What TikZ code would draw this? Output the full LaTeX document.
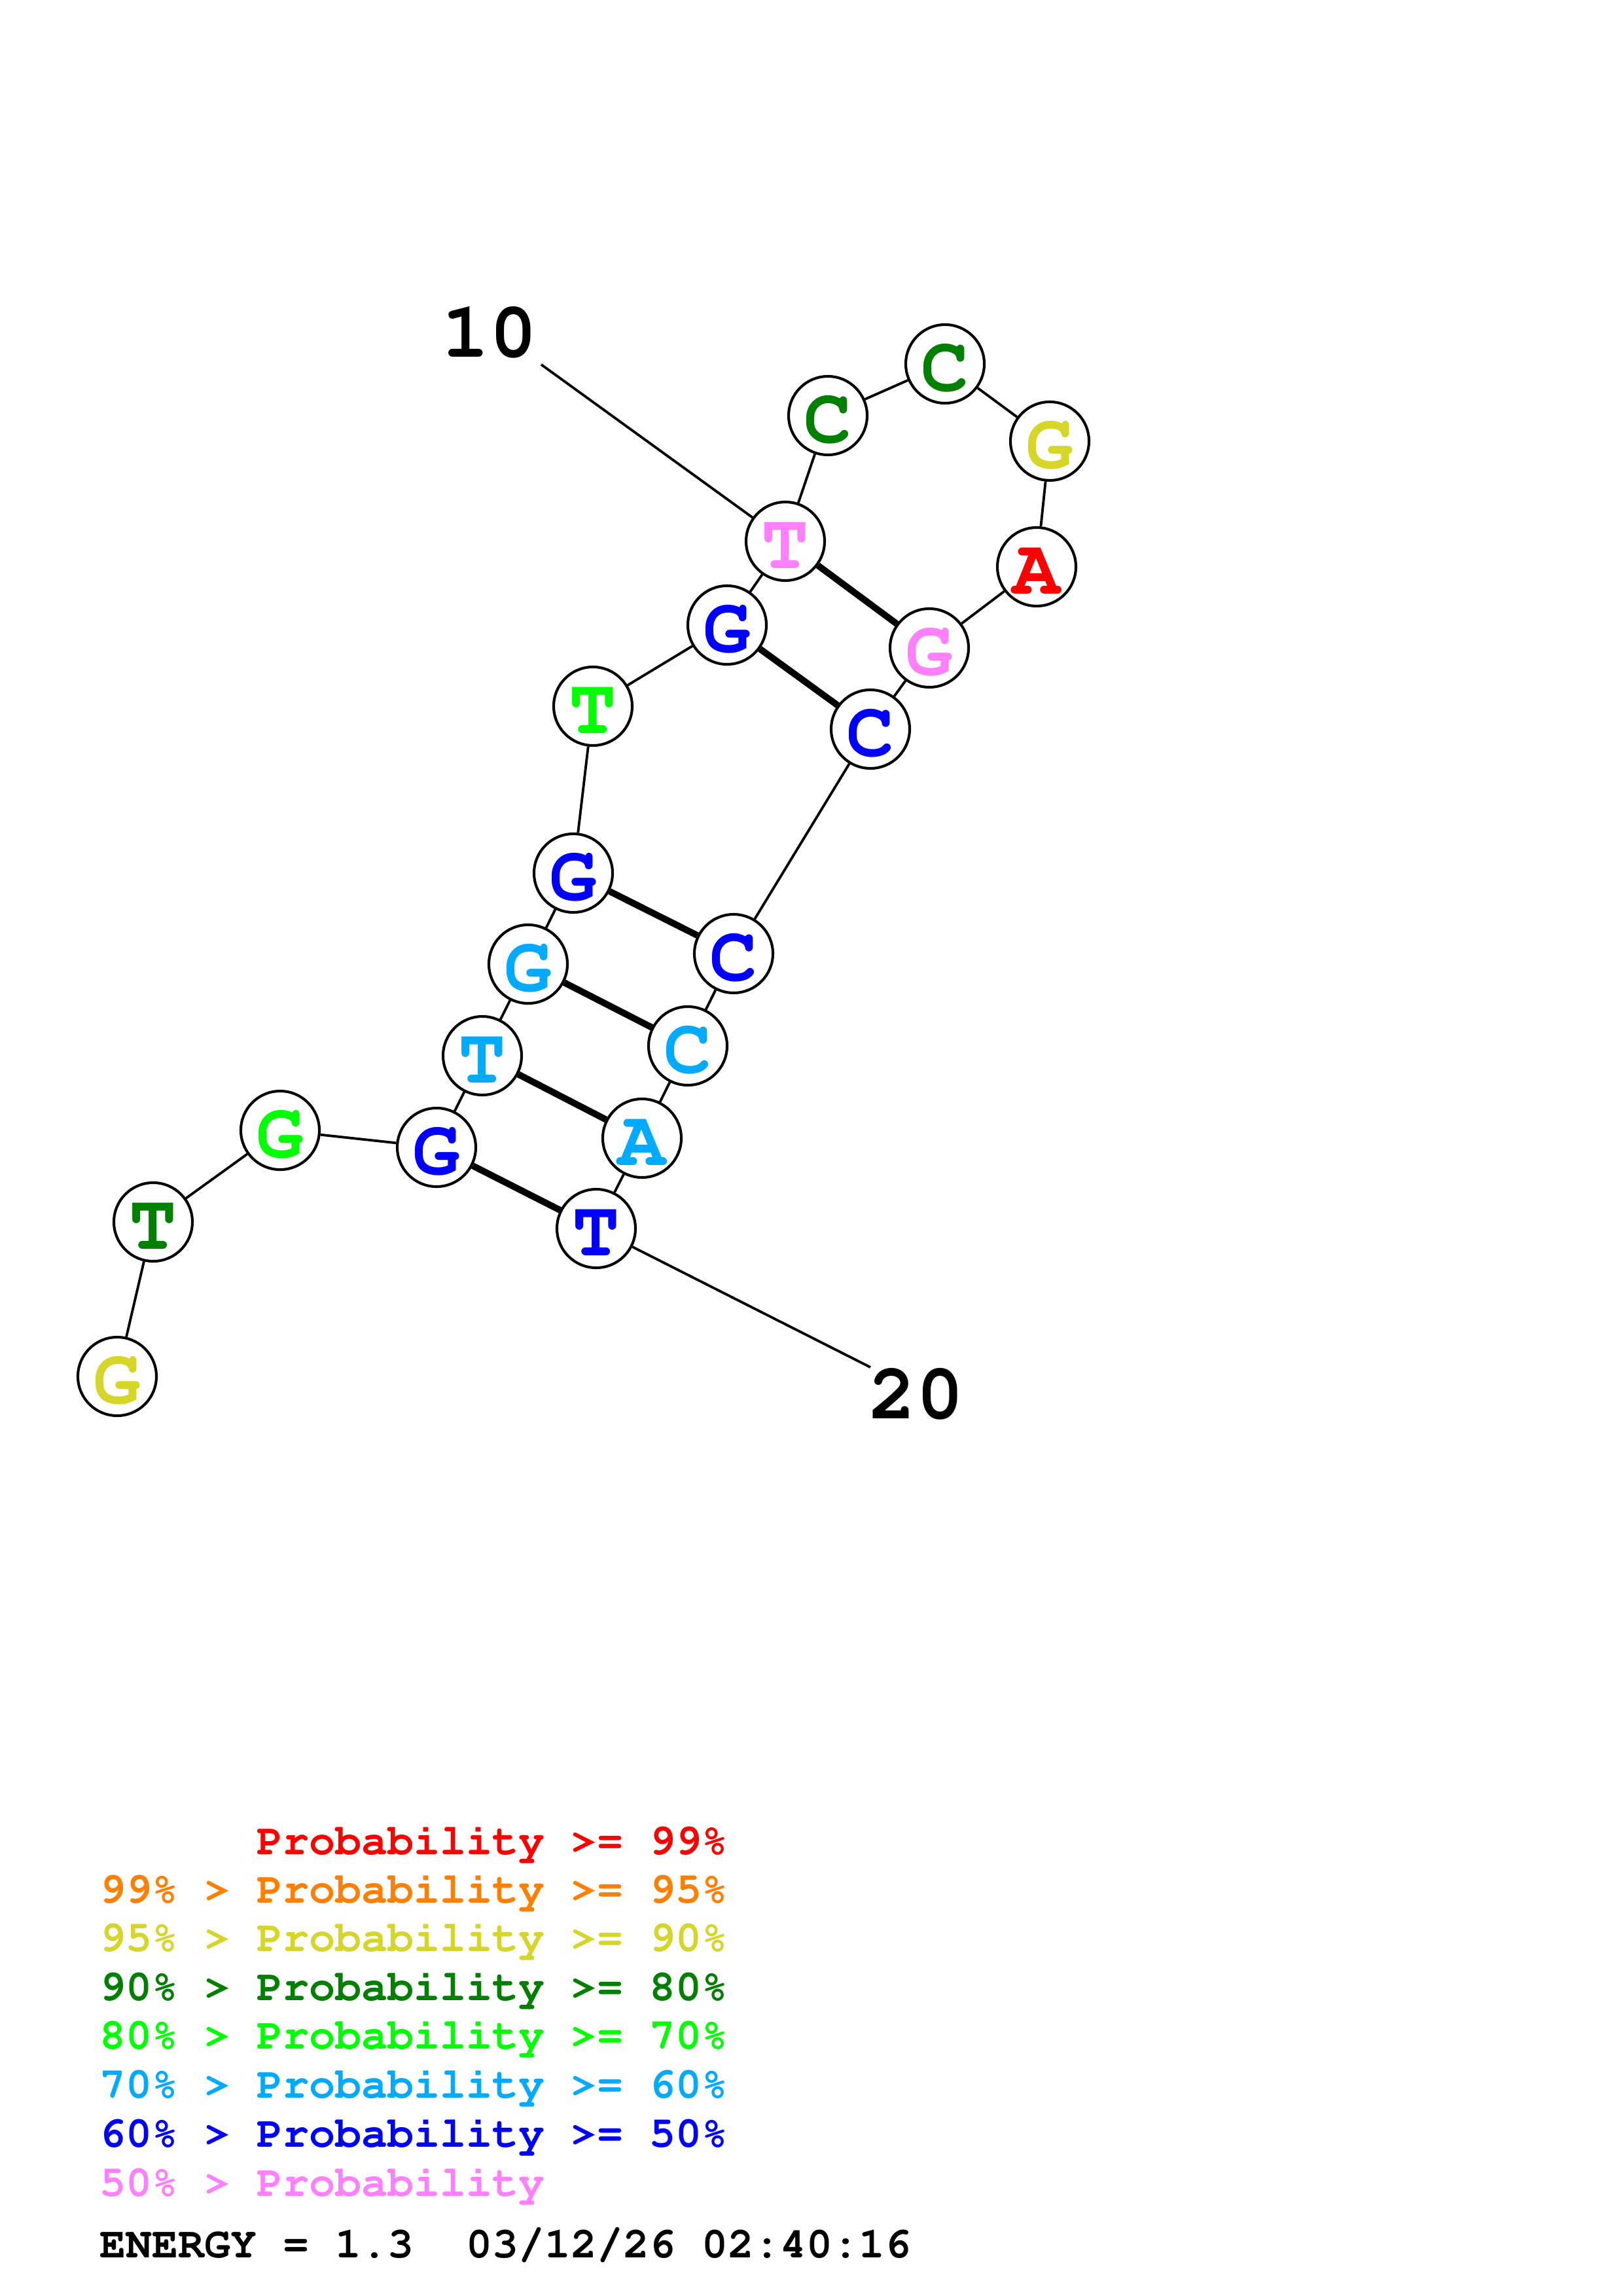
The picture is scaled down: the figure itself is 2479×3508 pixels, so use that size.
\documentclass[tikz,border=0pt]{standalone}
\usepackage[T1]{fontenc}
\usepackage{courier}
\definecolor{cRed}{RGB}{255,0,0}
\definecolor{cOrange}{RGB}{255,128,0}
\definecolor{cYellow}{RGB}{214,214,41}
\definecolor{cDkGreen}{RGB}{0,128,0}
\definecolor{cGreen}{RGB}{0,255,0}
\definecolor{cLtBlue}{RGB}{0,170,255}
\definecolor{cBlue}{RGB}{0,0,255}
\definecolor{cPink}{RGB}{255,128,255}
\tikzset{
  base/.style={circle,draw=black,fill=white,line width=0.98pt,minimum size=28.8pt,inner sep=0pt,
    text height=20pt,text depth=0pt,
    font=\ttfamily\bfseries\fontsize{29}{30}\selectfont},
  bb/.style={line width=0.92pt},
  pairline/.style={line width=2.4pt},
  numlabel/.style={font=\ttfamily\bfseries\fontsize{29}{30}\selectfont,inner sep=0pt},
  legend/.style={anchor=base west,inner sep=0pt,font=\ttfamily\bfseries\fontsize{16}{16}\selectfont}
}
\begin{document}
\begin{tikzpicture}[x=0.24pt,y=-0.24pt]
\useasboundingbox[fill=white] (0,0) rectangle (2479,3508);
% nucleotides
\node[base,text=cYellow]  (n1)  at (179,2103) {G};
\node[base,text=cDkGreen] (n2)  at (234,1867) {T};
\node[base,text=cGreen]   (n3)  at (428,1727) {G};
\node[base,text=cBlue]    (n4)  at (667,1753) {G};
\node[base,text=cLtBlue]  (n5)  at (737,1613) {T};
\node[base,text=cLtBlue]  (n6)  at (807,1473) {G};
\node[base,text=cBlue]    (n7)  at (876,1334) {G};
\node[base,text=cGreen]   (n8)  at (906,1079) {T};
\node[base,text=cBlue]    (n9)  at (1111,955) {G};
\node[base,text=cPink]    (n10) at (1200,827) {T};
\node[base,text=cDkGreen] (n11) at (1265,635) {C};
\node[base,text=cDkGreen] (n12) at (1444,556) {C};
\node[base,text=cYellow]  (n13) at (1604,674) {G};
\node[base,text=cRed]     (n14) at (1584,866) {A};
\node[base,text=cPink]    (n15) at (1420,990) {G};
\node[base,text=cBlue]    (n16) at (1330,1114) {C};
\node[base,text=cBlue]    (n17) at (1121,1457) {C};
\node[base,text=cLtBlue]  (n18) at (1051,1598) {C};
\node[base,text=cLtBlue]  (n19) at (981,1739) {A};
\node[base,text=cBlue]    (n20) at (911,1877) {T};
% backbone
\draw[bb] (n1)--(n2) (n2)--(n3) (n3)--(n4) (n4)--(n5) (n5)--(n6) (n6)--(n7) (n7)--(n8)
  (n8)--(n9) (n9)--(n10) (n10)--(n11) (n11)--(n12) (n12)--(n13) (n13)--(n14) (n14)--(n15)
  (n15)--(n16) (n16)--(n17) (n17)--(n18) (n18)--(n19) (n19)--(n20);
% pairs
\draw[pairline] (n4)--(n20) (n5)--(n19) (n6)--(n18) (n7)--(n17) (n9)--(n16) (n10)--(n15);
% number labels
\coordinate (l10) at (827,557);
\coordinate (l20) at (1330,2089);
\draw[bb] (l10)--(n10);
\draw[bb] (n20)--(l20);
\node[numlabel] (t10) at (748,509) {10};
\node[numlabel] (t20) at (1400,2131) {20};
% legend
\node[legend,text=cRed]     (g1) at (152,2833) {\ \ \ \ \ \ Probability >= 99\%};
\node[legend,text=cOrange]  (g2) at (152,2907) {99\% > Probability >= 95\%};
\node[legend,text=cYellow]  (g3) at (152,2981) {95\% > Probability >= 90\%};
\node[legend,text=cDkGreen] (g4) at (152,3056) {90\% > Probability >= 80\%};
\node[legend,text=cGreen]   (g5) at (152,3130) {80\% > Probability >= 70\%};
\node[legend,text=cLtBlue]  (g6) at (152,3205) {70\% > Probability >= 60\%};
\node[legend,text=cBlue]    (g7) at (152,3280) {60\% > Probability >= 50\%};
\node[legend,text=cPink]    (g8) at (152,3355) {50\% > Probability};
\node[legend,text=black]    (g9) at (152,3449) {ENERGY = 1.3\ \ 03/12/26 02:40:16};
\end{tikzpicture}
\end{document}
